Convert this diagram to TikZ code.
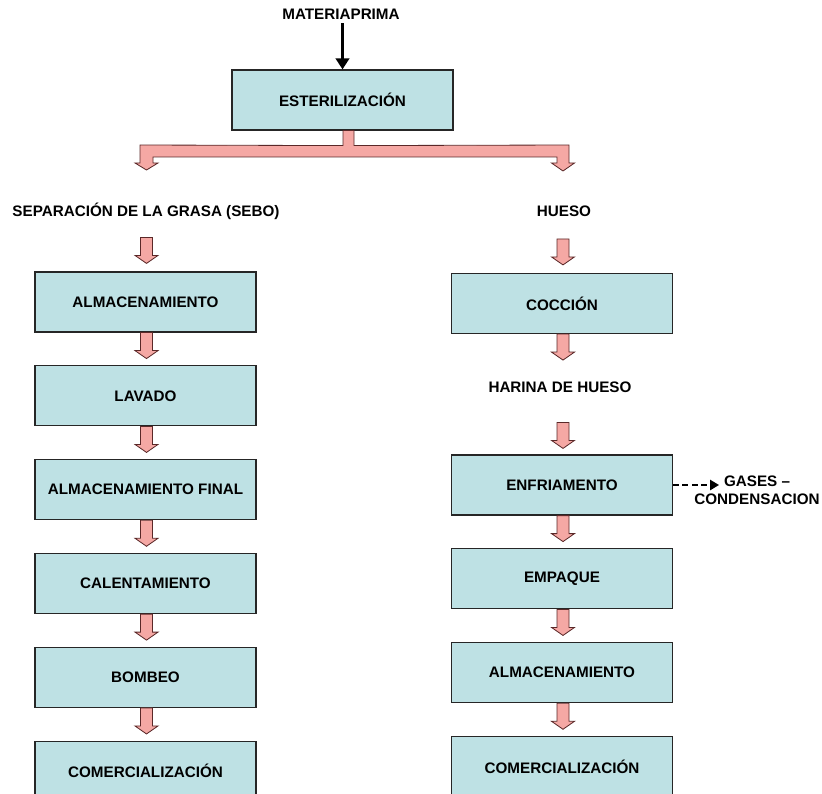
\documentclass[tikz,border=0pt]{standalone}
\usepackage{fontspec}
\setmainfont{Liberation Sans}
\usetikzlibrary{arrows.meta,positioning,calc}

\definecolor{celeste}{RGB}{190,225,228}
\definecolor{rosa}{RGB}{245,168,164}
\definecolor{borderosa}{RGB}{90,40,40}

\tikzset{
  caja/.style={draw=black!85,line width=1pt,fill=celeste,minimum width=6.63cm,minimum height=1.8cm,font=\bfseries\fontsize{13}{15.5}\selectfont},
  rotulo/.style={font=\bfseries\fontsize{13}{15.5}\selectfont},
  flecha/.style={draw=borderosa,line width=0.7pt,fill=rosa},
  bajada/.pic={\filldraw[flecha] (-6,0) -- (6,0) -- (6,18) -- (11.5,18) -- (0,26) -- (-11.5,18) -- (-6,18) -- cycle;}
}

\begin{document}
\begin{tikzpicture}[x=0.03cm,y=-0.03cm,node distance=0.98cm]
\useasboundingbox (0,0) rectangle (822,794);

\node[rotulo] (materia) at (341,14) {MATERIAPRIMA};
\node[caja] (ester) at (342.5,100) {ESTERILIZACIÓN};

\node[rotulo] (sep) at (146,211) {SEPARACIÓN DE LA GRASA (SEBO)};
\node[rotulo] (hueso) at (564,211) {HUESO};

% columna izquierda
\node[caja] (alm1) at (145.5,302) {ALMACENAMIENTO};
\node[caja] (lav) [below=of alm1] {LAVADO};
\node[caja] (almf) [below=of lav] {ALMACENAMIENTO FINAL};
\node[caja] (cal) [below=of almf] {CALENTAMIENTO};
\node[caja] (bomb) [below=of cal] {BOMBEO};
\node[caja] (com1) [below=of bomb] {COMERCIALIZACIÓN};

% columna derecha
\node[caja] (cocc) at (562,303.5) {COCCIÓN};
\node[rotulo] (harina) at (560,387) {HARINA DE HUESO};
\node[caja] (enfr) at (562,485) {ENFRIAMENTO};
\node[caja] (emp) [below=of enfr] {EMPAQUE};
\node[caja] (alm2) [below=of emp] {ALMACENAMIENTO};
\node[caja] (com2) [below=of alm2] {COMERCIALIZACIÓN};

\node[rotulo,align=center] (gases) at (757,490) {GASES –\\CONDENSACION};

\draw[line width=2.8pt,-{Triangle[width=0.4cm,length=0.33cm]}] (ester.north |- materia.south) -- (ester.north);

% reparto en dos ramas
\filldraw[flecha] ($(ester.south)+(0.5,0)$) -- ++(11,0) -- ++(0,15) -- (569,145) -- (569,163) -- (574.5,163)
  -- (563,171) -- (551.5,163) -- (557,163) -- (557,157) -- (153,157) -- (153,163) -- (158,163)
  -- (146.5,170) -- (135,163) -- (140,163) -- (140,145) -- ($(ester.south)+(0.5,15)$) -- cycle;

\pic at ($(alm1.north)+(1,-34)$) {bajada};
\pic at ($(cocc.north)+(1,-34)$) {bajada};
\pic at ($(enfr.north)+(1,-32)$) {bajada};
\foreach \a in {alm1,lav,almf,cal,bomb}
  \pic at ($(\a.south)+(1,0)$) {bajada};
\foreach \a in {cocc,enfr,emp,alm2}
  \pic at ($(\a.south)+(1,0)$) {bajada};

\draw[line width=2pt,dash pattern=on 0.18cm off 0.1cm,-{Triangle[width=0.3cm,length=0.27cm]}] (enfr.east) -- ++(46,0);
\end{tikzpicture}
\end{document}
